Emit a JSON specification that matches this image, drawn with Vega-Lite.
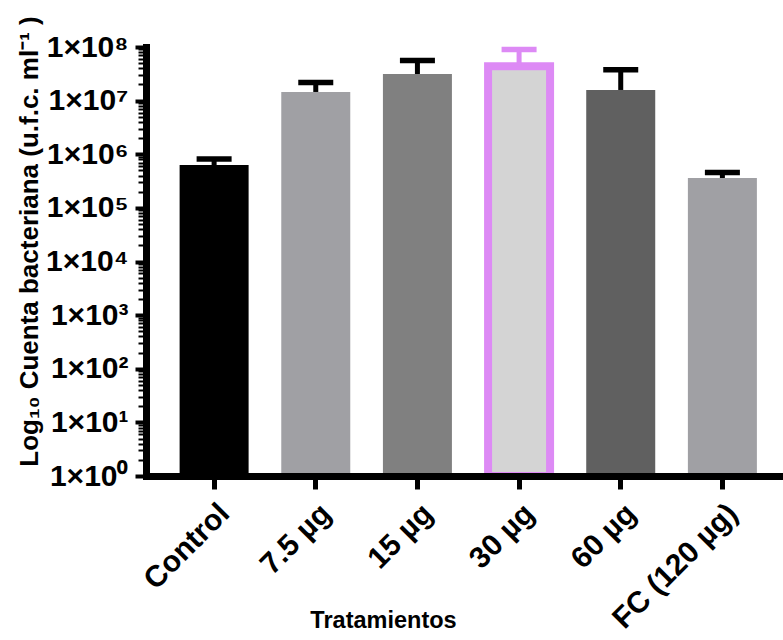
{
  "$schema": "https://vega.github.io/schema/vega-lite/v6.json",
  "width": 637,
  "height": 429,
  "autosize": {"type": "none"},
  "padding": {"left": 146, "top": 47, "right": 0, "bottom": 164},
  "background": "white",
  "config": {"view": {"stroke": null}, "font": "Liberation Sans"},
  "data": {
    "values": [
      {"treatment": "Control", "value": 630000, "upper": 815000},
      {"treatment": "7.5 µg", "value": 14500000, "upper": 21800000},
      {"treatment": "15 µg", "value": 31400000, "upper": 56000000},
      {"treatment": "30 µg", "value": 43700000, "upper": 89800000},
      {"treatment": "60 µg", "value": 15800000, "upper": 37800000},
      {"treatment": "FC (120 µg)", "value": 361000, "upper": 457000}
    ]
  },
  "encoding": {
    "x": {
      "field": "treatment",
      "type": "nominal",
      "sort": null,
      "scale": {"range": [0, 644.5], "paddingInner": 0.32, "paddingOuter": 0.33},
      "axis": {
        "title": "Tratamientos",
        "labelAngle": -45,
        "labelFont": "Liberation Sans",
        "labelFontSize": 30,
        "labelFontWeight": "bold",
        "labelColor": "black",
        "labelPadding": 9,
        "labelOverlap": false,
        "tickSize": 13,
        "tickWidth": 5,
        "tickColor": "black",
        "domainColor": "black",
        "domainWidth": 7,
        "domainCap": "square",
        "titleFont": "Liberation Sans",
        "titleFontSize": 23.5,
        "titleFontWeight": "bold",
        "titleColor": "black",
        "titleX": 237,
        "titleY": 144,
        "titleBaseline": "middle",
        "zindex": 1
      }
    }
  },
  "layer": [
    {
      "mark": {"type": "bar"},
      "encoding": {
        "y": {
          "field": "value",
          "type": "quantitative",
          "scale": {"type": "log", "domain": [1, 100000000], "nice": false},
          "axis": {
            "values": [1,2,3,4,5,6,7,8,9,10,20,30,40,50,60,70,80,90,100,200,300,400,500,600,700,800,900,1000,2000,3000,4000,5000,6000,7000,8000,9000,10000,20000,30000,40000,50000,60000,70000,80000,90000,100000,200000,300000,400000,500000,600000,700000,800000,900000,1000000,2000000,3000000,4000000,5000000,6000000,7000000,8000000,9000000,10000000,20000000,30000000,40000000,50000000,60000000,70000000,80000000,90000000,100000000],
            "labelExpr": "abs(log(datum.value)/LN10 - round(log(datum.value)/LN10)) < 0.001 ? '1×10' + ['⁰','¹','²','³','⁴','⁵','⁶','⁷','⁸'][round(log(datum.value)/LN10)] : ''",
            "title": "Log₁₀ Cuenta bacteriana (u.f.c. ml⁻¹ )",
            "grid": false,
            "domainColor": "black",
            "domainWidth": 7,
            "domainCap": "square",
            "tickColor": "black",
            "tickSize": {"condition": {"test": "abs(log(datum.value)/LN10 - round(log(datum.value)/LN10)) < 0.001", "value": 11}, "value": 8},
            "tickWidth": {"condition": {"test": "abs(log(datum.value)/LN10 - round(log(datum.value)/LN10)) < 0.001", "value": 4}, "value": 2},
            "labelFont": "Liberation Sans",
            "labelFontSize": 30,
            "labelFontWeight": "bold",
            "labelColor": "black",
            "labelPadding": 7,
            "labelFlush": false,
            "labelOverlap": false,
            "titleFont": "Liberation Sans",
            "titleFontSize": 26,
            "titleFontWeight": "bold",
            "titleColor": "black",
            "titleX": -117,
            "titleY": 194,
            "titleBaseline": "middle",
            "zindex": 1
          }
        },
        "y2": {"datum": 1},
        "fill": {
          "field": "treatment",
          "type": "nominal",
          "sort": null,
          "scale": {
            "domain": ["Control", "7.5 µg", "15 µg", "30 µg", "60 µg", "FC (120 µg)"],
            "range": ["#000000", "#a0a0a4", "#808080", "#d4d4d4", "#606060", "#a0a0a4"]
          },
          "legend": null
        },
        "stroke": {"condition": {"test": "datum.treatment === '30 µg'", "value": "#dd8af5"}, "value": null},
        "strokeWidth": {"condition": {"test": "datum.treatment === '30 µg'", "value": 8}, "value": 0},
        "size": {"condition": {"test": "datum.treatment === '30 µg'", "value": 62}, "value": 69}
      }
    },
    {
      "mark": {"type": "rule", "strokeWidth": 5},
      "encoding": {
        "y": {"field": "value", "type": "quantitative"},
        "y2": {"field": "upper"},
        "color": {"condition": {"test": "datum.treatment === '30 µg'", "value": "#dd8af5"}, "value": "black"}
      }
    },
    {
      "mark": {"type": "tick", "thickness": 5.5, "size": 35, "opacity": 1},
      "encoding": {
        "y": {"field": "upper", "type": "quantitative"},
        "color": {"condition": {"test": "datum.treatment === '30 µg'", "value": "#dd8af5"}, "value": "black"}
      }
    }
  ]
}
